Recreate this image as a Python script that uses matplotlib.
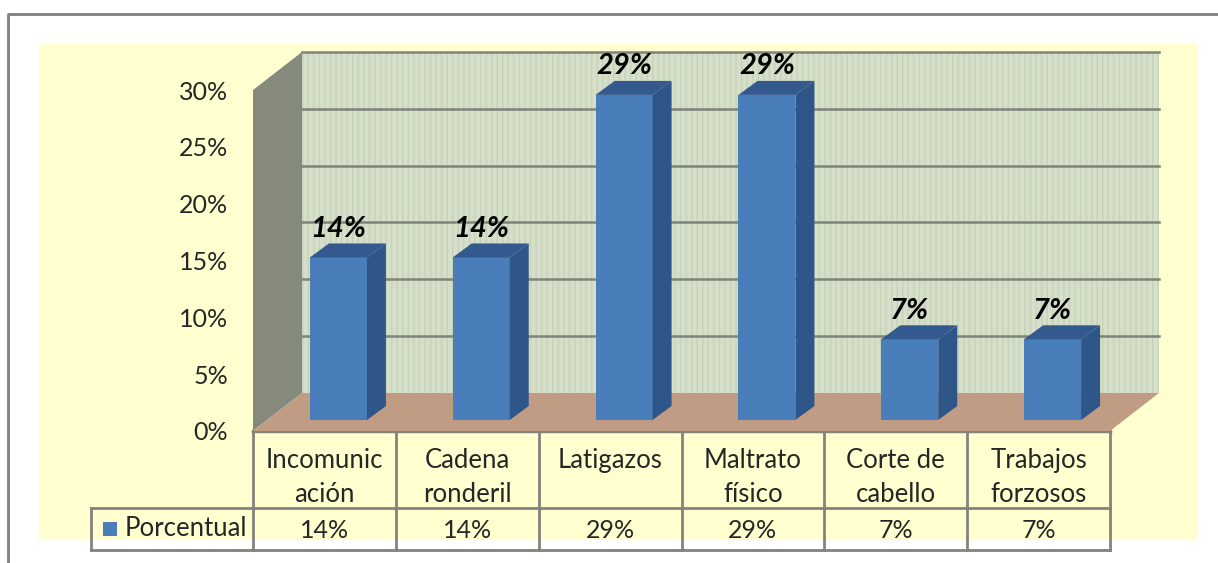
import matplotlib
matplotlib.use("Agg")
import matplotlib.pyplot as plt
from matplotlib.patches import Polygon, Rectangle

categories = ["Incomunic\nación", "Cadena\nronderil", "Latigazos", "Maltrato\nfísico", "Corte de\ncabello", "Trabajos\nforzosos"]
values = [14.3, 14.3, 28.6, 28.6, 7.1, 7.1]
value_labels = ["14%", "14%", "29%", "29%", "7%", "7%"]
yticks = [0, 5, 10, 15, 20, 25, 30]
series_name = "Porcentual"

plt.rcParams["font.family"] = ["Lato", "DejaVu Sans"]

W, H = 1218, 563
fig = plt.figure(figsize=(W / 100, H / 100), dpi=100, facecolor="white")

# pixel layer for the page frame and the yellow chart area
bg = fig.add_axes([0, 0, 1, 1])
bg.set_xlim(0, W)
bg.set_ylim(H, 0)
bg.axis("off")
bg.add_patch(Rectangle((39, 44), 1158, 496, color="#ffffd0", lw=0))
bg.plot([7.5, 7.5, W], [H, 13.5, 13.5], color="#7f7f7f", lw=2)

# front plane of the 3d box
x0, x1, y0, y1 = 253, 1110, 431, 90
ax = fig.add_axes([x0 / W, 1 - y0 / H, (x1 - x0) / W, (y0 - y1) / H])
ax.patch.set_visible(False)
n = len(categories)
ax.set_xlim(0, n)
ax.set_ylim(0, 30)
for s in ax.spines.values():
    s.set_visible(False)

px = n / (x1 - x0)
py = 30 / (y0 - y1)
dx, dz = 49 * px, 38 * py  # box depth
wall = "#d6dfc9"
grid = "#7f8478"

ax.add_patch(Polygon([(0, 0), (dx, dz), (dx, 30 + dz), (0, 30)], facecolor="#858a7c", edgecolor="none", clip_on=False, zorder=1))
ax.add_patch(Polygon([(dx, dz), (n + dx, dz), (n + dx, 30 + dz), (dx, 30 + dz)], facecolor=wall, edgecolor="#c6d3b8", hatch="|||", lw=0, clip_on=False, zorder=1))
ax.add_patch(Polygon([(0, 0), (dx, dz), (n + dx, dz), (n, 0)], facecolor="#c09c84", edgecolor="none", clip_on=False, zorder=2))
for t in yticks[1:]:
    ax.plot([dx, n + dx], [t + dz, t + dz], color=grid, lw=1.8, clip_on=False, zorder=2)

# bars
bw = 57 * px
bar_dx, bar_dz = 19 * px, 14 * py
lift = 11 * py
for i, v in enumerate(values):
    left = i + 0.5 - bw / 2 + 14 * px
    top = lift + v
    right = left + bw
    ax.bar(left + bw / 2, v, width=bw, bottom=lift, color="#4a7ebb", zorder=3, clip_on=False)
    ax.add_patch(Polygon([(right, lift), (right + bar_dx, lift + bar_dz), (right + bar_dx, top + bar_dz), (right, top)], facecolor="#2f5689", edgecolor="none", clip_on=False, zorder=3))
    ax.add_patch(Polygon([(left, top), (left + bar_dx, top + bar_dz), (right + bar_dx, top + bar_dz), (right, top)], facecolor="#33598f", edgecolor="none", clip_on=False, zorder=3))
    ax.text(left + bw / 2, top + bar_dz + 1.5 * py, value_labels[i], ha="center", va="bottom", fontsize=21, fontweight="bold", fontstyle="italic", color="black", clip_on=False, zorder=4)

ax.set_yticks(yticks)
ax.set_yticklabels([f"{t}%" for t in yticks], fontsize=18, color="#262626")
ax.set_xticks([i + 0.5 for i in range(n)])
ax.set_xticklabels(categories, fontsize=18.5, color="#262626", linespacing=1.45)
ax.tick_params(axis="both", length=0)
ax.tick_params(axis="y", pad=18)
ax.tick_params(axis="x", pad=12)

# data table under the axis
line = "#85827c"
row1 = y0
row2 = 508
row3 = 550
for i in range(n + 1):
    bg.plot([x0 + i * (x1 - x0) / n] * 2, [row1, row3], color=line, lw=2, zorder=5)
bg.plot([x0, x1], [row1, row1], color=line, lw=2.5, zorder=5)
bg.plot([91, x1], [row2, row2], color=line, lw=2, zorder=5)
bg.plot([91, x1], [row3, row3], color=line, lw=2, zorder=5)
bg.plot([91, 91], [row2, row3], color=line, lw=2, zorder=5)
for i, lab in enumerate(value_labels):
    bg.text(x0 + (i + 0.5) * (x1 - x0) / n, 530, lab, ha="center", va="center", fontsize=18, color="#262626")
bg.add_patch(Rectangle((103, 522), 14, 14, color="#4a7ebb", lw=0, zorder=5))
bg.text(125, 529, series_name, ha="left", va="center", fontsize=18.5, color="#262626")

fig.savefig("out.png", dpi=100)
